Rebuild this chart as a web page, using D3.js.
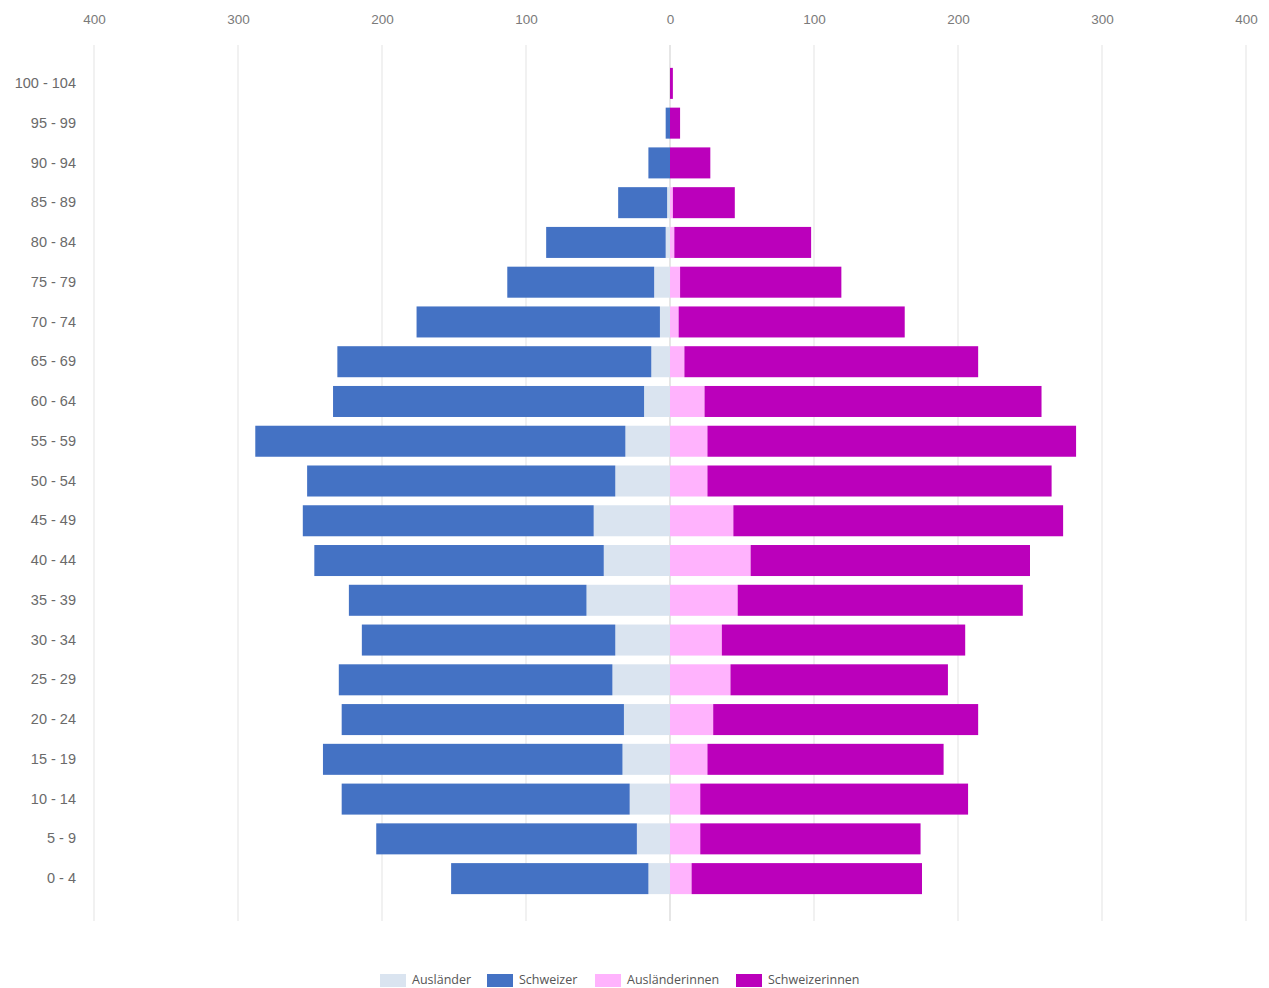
<!DOCTYPE html>
<html><head><meta charset="utf-8">
<script src="https://cdn.jsdelivr.net/npm/d3@7"></script>
<style>body{margin:0;background:#fff;} svg{display:block;font-family:"Open Sans","Noto Sans",sans-serif;}</style>
</head><body><svg id="c" width="1269" height="988"></svg>
<script>
const ageGroups = ["100 - 104","95 - 99","90 - 94","85 - 89","80 - 84","75 - 79","70 - 74","65 - 69","60 - 64","55 - 59","50 - 54","45 - 49","40 - 44","35 - 39","30 - 34","25 - 29","20 - 24","15 - 19","10 - 14","5 - 9","0 - 4"];
const auslaender      = [0, 0, 0, 2, 3, 11, 7, 13, 18, 31, 38, 53, 46, 58, 38, 40, 32, 33, 28, 23, 15];
const schweizer       = [0, 3, 15, 34, 83, 102, 169, 218, 216, 257, 214, 202, 201, 165, 176, 190, 196, 208, 200, 181, 137];
const auslaenderinnen = [0, 0, 0, 2, 3, 7, 6, 10, 24, 26, 26, 44, 56, 47, 36, 42, 30, 26, 21, 21, 15];
const schweizerinnen  = [2, 7, 28, 43, 95, 112, 157, 204, 234, 256, 239, 229, 194, 198, 169, 151, 184, 164, 186, 153, 160];
const tickValues = [-400,-300,-200,-100,0,100,200,300,400];
const seriesNames = ["Ausländer","Schweizer","Ausländerinnen","Schweizerinnen"];
const colors = ["#dae4f0","#4472c4","#ffb3fd","#bb00bb"];

const svg = d3.select("#c");
const x = d3.scaleLinear().domain([-400,400]).range([94,1246]);
const y = d3.scaleBand().domain(ageGroups).range([63.5,898.5]).paddingInner(0.22).paddingOuter(0.11);

// gridlines
svg.append("g").selectAll("line").data(tickValues).join("line")
  .attr("x1",d=>x(d)).attr("x2",d=>x(d)).attr("y1",45).attr("y2",921)
  .attr("stroke",d=>d===0?"#d6d6d6":"#e8e8e8").attr("stroke-width",1.2);

// top axis
const xAxis = d3.axisTop(x).tickValues(tickValues).tickFormat(d=>Math.abs(d)).tickSize(0).tickPadding(0);
const ax = svg.append("g").attr("transform","translate(0,24)").call(xAxis);
ax.select(".domain").remove();
ax.selectAll("text").attr("fill","#7a7a7a").attr("font-size",13.5);

// left axis
const yAxis = d3.axisLeft(y).tickSize(0).tickPadding(0);
const ay = svg.append("g").attr("transform","translate(76,0)").call(yAxis);
ay.select(".domain").remove();
ay.selectAll("text").attr("fill","#6a6a6a").attr("font-size",14.5);

const rows = ageGroups.map((a,i)=>({a, am:auslaender[i], sm:schweizer[i], af:auslaenderinnen[i], sf:schweizerinnen[i]}));
const segs = [];
rows.forEach(r=>{
  segs.push({a:r.a, x0:-r.am, x1:0, c:0});
  segs.push({a:r.a, x0:-(r.am+r.sm), x1:-r.am, c:1});
  segs.push({a:r.a, x0:0, x1:r.af, c:2});
  segs.push({a:r.a, x0:r.af, x1:r.af+r.sf, c:3});
});
svg.append("g").selectAll("rect").data(segs.filter(s=>s.x1>s.x0)).join("rect")
  .attr("x",d=>x(d.x0)).attr("width",d=>x(d.x1)-x(d.x0))
  .attr("y",d=>y(d.a)).attr("height",y.bandwidth())
  .attr("fill",d=>colors[d.c]);

// legend
const legendX = [380,487,595,736];
const lg = svg.append("g");
seriesNames.forEach((n,i)=>{
  lg.append("rect").attr("x",legendX[i]).attr("y",974).attr("width",26).attr("height",13).attr("fill",colors[i]);
  lg.append("text").attr("x",legendX[i]+32).attr("y",984).attr("font-size",12.5).attr("fill","#555").text(n);
});
</script></body></html>
